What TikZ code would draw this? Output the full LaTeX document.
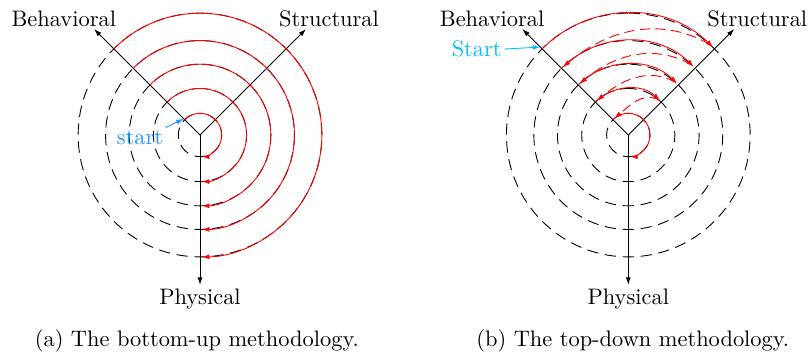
\documentclass[tikz,border=0pt]{standalone}
\usetikzlibrary{arrows.meta}
\definecolor{startblue}{RGB}{30,150,255}
\definecolor{startcyan}{RGB}{0,190,255}

\begin{document}
\begin{tikzpicture}[
        >={Latex[length=3.4pt,width=2.2pt]},
        every node/.style={inner sep=1pt, font=\normalsize},
        ring/.style={dash pattern=on 5pt off 3pt, dash phase=2.5pt},
        flow/.style={red, ->, shorten >=0.8pt},
        back/.style={red, ->, dash pattern=on 4.5pt off 2.5pt, shorten >=0.8pt}
      ]
        \useasboundingbox (-3.135,2.116) rectangle (9.561,-3.511);

        \foreach \name/\cx in {bu/0, td/6.713} {
          \begin{scope}[shift={(\cx,0)}]
            \foreach \r in {0.34,0.73,1.11,1.48,1.91}
              \draw[ring] (0,-\r) arc[start angle=-90, end angle=90, radius=\r]
                          (0,-\r) arc[start angle=-90, end angle=-270, radius=\r];
            \coordinate (\name-o) at (0,0);
            \coordinate (\name-b) at (135:2.35);
            \coordinate (\name-s) at (45:2.35);
            \coordinate (\name-p) at (0,-2.35);
            \draw[->] (\name-o) -- (\name-b);
            \draw[->] (\name-o) -- (\name-s);
            \draw[->] (\name-o) -- (\name-p);
            \node[anchor=base] (\name-beh) at (-2.135,1.708) {Behavioral};
            \node[anchor=base] (\name-str) at (2.022,1.708) {Structural};
            \node[anchor=base] (\name-phy) at (0,-2.65) {Physical};
          \end{scope}
        }

        \foreach \r in {0.34,0.73,1.11,1.48,1.91}
          \draw[flow] (135:\r) arc[start angle=135, end angle=-90, radius=\r];
        \coordinate (bu-tip) at (135:0.36);
        \node[anchor=base, text=startblue] (bu-start) at (-0.94,-0.141) {start};
        \draw[->, startblue] (bu-start.north east) -- (bu-tip);
        \node[anchor=base] (bu-cap) at (-0.05,-3.32) {(a) The bottom-up methodology.};

        \begin{scope}[shift={(6.713,0)}]
          \foreach \r in {1.91,1.48,1.11,0.73}
            \draw[flow] (135:\r) arc[start angle=135, end angle=45, radius=\r];
          \foreach \r/\s in {1.91/1.48, 1.48/1.11, 1.11/0.73, 0.73/0.34}
            \draw[back] (48:\r) to[out=150, in=40] (135:\s);
          \draw[flow] (135:0.34) arc[start angle=135, end angle=-90, radius=0.34];
          \coordinate (td-tip) at (135:1.95);
          \node[anchor=base, text=startcyan] (td-start) at (-2.376,1.227) {Start};
          \draw[->, startcyan] (td-start.east) -- (td-tip);
          \node[anchor=base] (td-cap) at (0.07,-3.32) {(b) The top-down methodology.};
        \end{scope}
      \end{tikzpicture}
\end{document}
